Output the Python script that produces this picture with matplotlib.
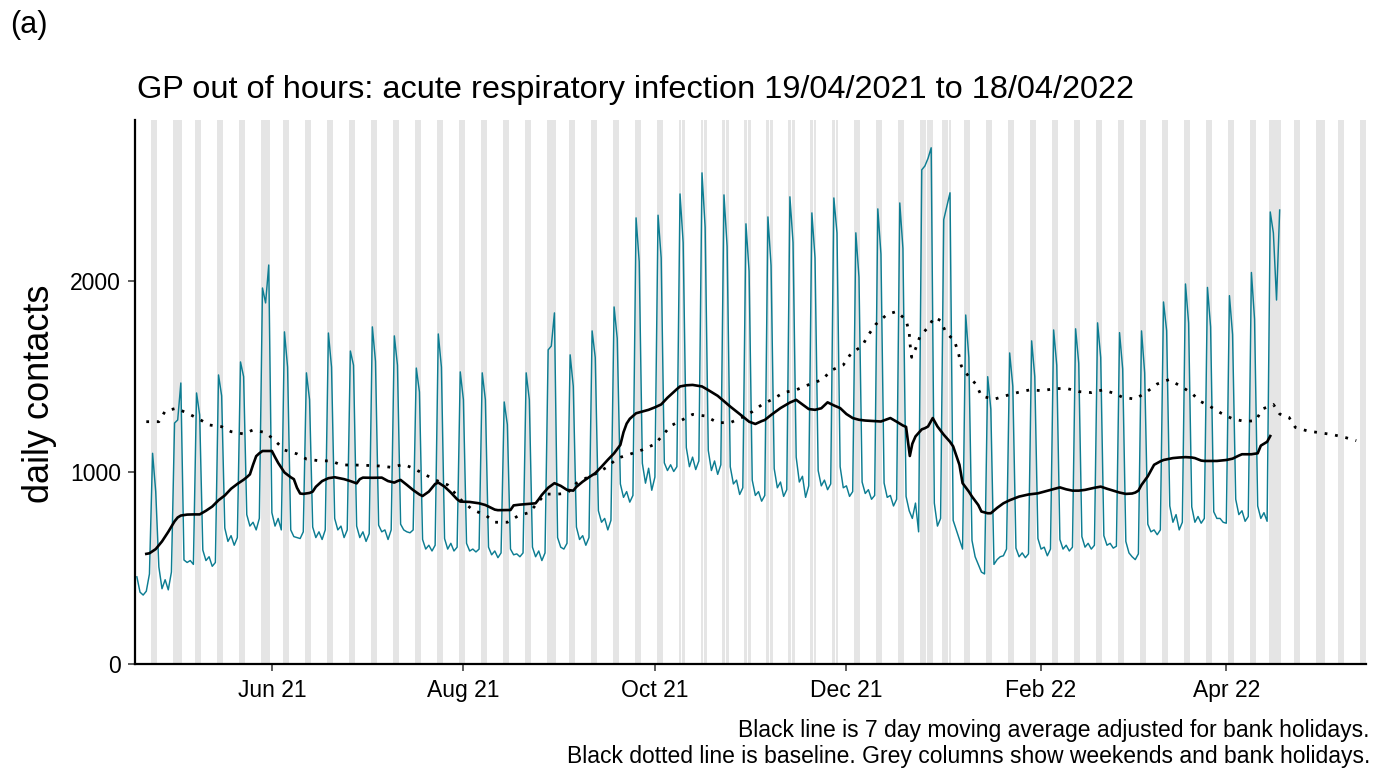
import numpy as np
import pandas as pd
import matplotlib
matplotlib.use("Agg")
import matplotlib.pyplot as plt
import matplotlib.dates as mdates

plt.rcParams['font.family'] = ['Liberation Sans', 'DejaVu Sans']

# ---------------------------------------------------------------- data
start_date = pd.Timestamp("2021-04-19")      # a Monday
shade_until = pd.Timestamp("2022-05-15")

# daily contacts, one row per week (Mon..Sun)
contacts_by_week = [
    [455, 375, 360, 380, 470, 1100, 900],
    [507, 393, 440, 387, 480, 1258, 1274],
    [1467, 543, 530, 540, 520, 1415, 1300],
    [595, 540, 560, 510, 530, 1509, 1400],
    [710, 640, 670, 620, 660, 1577, 1500],
    [780, 720, 740, 700, 760, 1963, 1885],
    [2083, 790, 720, 760, 700, 1734, 1550],
    [700, 665, 660, 655, 690, 1520, 1380],
    [715, 660, 690, 650, 700, 1728, 1550],
    [760, 700, 720, 660, 700, 1634, 1560],
    [720, 660, 690, 640, 680, 1760, 1580],
    [725, 690, 700, 650, 700, 1713, 1560],
    [730, 700, 690, 685, 700, 1545, 1420],
    [650, 600, 620, 590, 620, 1723, 1550],
    [655, 600, 630, 590, 610, 1525, 1380],
    [630, 590, 600, 585, 600, 1520, 1380],
    [610, 570, 590, 555, 580, 1368, 1250],
    [600, 570, 575, 560, 580, 1520, 1380],
    [610, 560, 590, 540, 580, 1640, 1660],
    [1833, 660, 610, 600, 630, 1614, 1450],
    [715, 650, 670, 620, 660, 1739, 1600],
    [800, 740, 760, 700, 750, 1864, 1700],
    [940, 870, 900, 845, 880, 2329, 2100],
    [1048, 944, 1022, 907, 976, 2343, 2120],
    [1050, 1010, 1040, 1005, 1030, 2454, 2200],
    [1130, 1030, 1080, 1015, 1060, 2564, 2280],
    [1115, 1010, 1060, 990, 1040, 2449, 2180],
    [1030, 940, 960, 885, 920, 2298, 2050],
    [960, 880, 900, 850, 880, 2334, 2080],
    [1020, 920, 950, 875, 910, 2439, 2200],
    [1080, 950, 980, 870, 930, 2355, 2120],
    [1010, 930, 960, 910, 940, 2433, 2250],
    [1030, 920, 930, 875, 900, 2251, 2020],
    [950, 890, 910, 860, 880, 2376, 2140],
    [945, 870, 880, 825, 860, 2407, 2170],
    [875, 800, 760, 840, 690, 2580, 2600],
    [2640, 2695, 840, 720, 760, 2320, 2390],
    [2460, 750, 700, 650, 600, 1822, 1600],
    [645, 560, 520, 480, 470, 1500, 1330],
    [520, 545, 560, 565, 600, 1624, 1450],
    [605, 560, 580, 555, 575, 1687, 1500],
    [655, 600, 610, 565, 600, 1744, 1560],
    [650, 600, 620, 590, 610, 1750, 1570],
    [665, 610, 630, 600, 620, 1781, 1600],
    [670, 620, 630, 605, 615, 1730, 1540],
    [640, 580, 560, 545, 575, 1739, 1520],
    [730, 690, 700, 675, 700, 1890, 1740],
    [825, 740, 780, 700, 740, 1984, 1780],
    [820, 740, 770, 735, 760, 1966, 1760],
    [795, 760, 760, 740, 735, 1923, 1720],
    [860, 780, 800, 745, 770, 2044, 1800],
    [825, 760, 790, 745, 2360, 2250, 1900],
]
final_day_contacts = [2370]

# 7 day moving average (days counted from start_date)
ma_day = [3, 4, 6, 8, 10, 12, 13, 14, 16, 18, 20, 22, 24, 26, 28, 30, 32, 34, 35, 36,
          37, 38, 39, 40, 43, 44, 45, 47, 49, 50, 51, 52, 53, 55, 56, 57, 59, 61, 63, 66,
          68, 70, 71, 72, 75, 78, 80, 82, 83, 84, 86, 88, 90, 91, 93, 95, 96, 98, 100, 102,
          103, 106, 109, 111, 112, 114, 115, 119, 120, 122, 124, 127, 128, 129, 131, 133, 135, 137, 139, 140,
          142, 144, 146, 148, 150, 152, 154, 155, 156, 157, 159, 161, 163, 165, 167, 169, 170, 172, 173, 175,
          177, 179, 180, 182, 185, 187, 189, 191, 193, 195, 197, 199, 200, 202, 203, 205, 207, 208, 210, 212,
          214, 216, 218, 220, 222, 224, 226, 228, 230, 232, 235, 237, 239, 240, 242, 244, 245, 245.7, 246.2, 247,
          248, 250, 251, 252, 253.5, 255, 257, 259, 260, 262, 263, 265, 266, 268, 269, 271, 272, 274, 276, 278,
          281, 284, 287, 289, 291, 294, 296, 298, 300, 302, 305, 307, 309, 311, 313, 315, 317, 318, 319, 320,
          322, 323, 324, 326, 327, 330, 332, 334, 336, 337, 339, 340, 344, 347, 349, 350, 351, 352, 355, 357,
          358, 360, 361]
ma_value = [575, 578, 600, 640, 690, 745, 765, 775, 780, 781, 781, 800, 822, 855, 880, 915, 940, 962, 975, 990,
            1040, 1085, 1100, 1112, 1112, 1080, 1050, 1000, 975, 965, 920, 890, 888, 893, 900, 925, 955, 970, 975, 965,
            955, 943, 965, 973, 972, 973, 955, 947, 955, 961, 935, 908, 885, 877, 900, 940, 947, 926, 895, 860,
            848, 846, 839, 830, 822, 806, 803, 804, 828, 832, 835, 839, 860, 883, 920, 944, 930, 909, 905, 925,
            952, 975, 996, 1030, 1066, 1100, 1144, 1210, 1255, 1280, 1309, 1318, 1327, 1340, 1355, 1390, 1405, 1435, 1449, 1455,
            1457, 1452, 1449, 1430, 1400, 1372, 1344, 1318, 1292, 1265, 1253, 1268, 1274, 1300, 1312, 1336, 1355, 1365, 1379, 1355,
            1331, 1327, 1335, 1366, 1350, 1336, 1305, 1284, 1275, 1271, 1268, 1266, 1278, 1284, 1265, 1245, 1238, 1150, 1086, 1150,
            1188, 1225, 1231, 1240, 1284, 1240, 1197, 1160, 1136, 1040, 944, 900, 874, 830, 796, 787, 787, 815, 839, 855,
            874, 885, 891, 900, 909, 922, 912, 905, 905, 909, 920, 926, 915, 905, 895, 888, 890, 895, 905, 935,
            980, 1010, 1040, 1058, 1065, 1075, 1078, 1080, 1078, 1075, 1062, 1060, 1060, 1065, 1072, 1080, 1088, 1095, 1095, 1100,
            1140, 1160, 1190]

# baseline (days counted from start_date)
baseline_day = [3, 7, 9, 12.5, 16, 20, 23, 27, 30, 34, 37, 41, 44, 47, 51, 54, 58, 62, 65, 69,
                73, 77, 81, 85, 88, 92, 95, 99, 103, 107, 111, 114, 118, 121.5, 125, 130, 134, 137, 140, 143,
                147, 150, 153, 157, 161, 165, 167.6, 170, 174, 177, 181, 185, 189, 192.5, 196, 199, 203, 206, 210, 213,
                218.5, 221, 225, 227.5, 231, 233, 235.4, 239, 242, 245, 246, 246.3, 246.8, 248, 249.4, 252, 254, 256, 257.7, 260.4,
                261.7, 262.6, 264.8, 267.3, 269, 273, 276.4, 280.7, 284.4, 288.4, 292.4, 296.3, 300, 304, 307.7, 311.5, 314, 318, 321.6, 325,
                328.8, 332.7, 336, 338.5, 341.7, 345.4, 349, 353, 356.4, 358.5, 362, 364, 367, 369, 373, 377, 381, 385, 388.4]
baseline_value = [1265, 1265, 1320, 1335, 1310, 1277, 1248, 1239, 1213, 1201, 1222, 1208, 1166, 1117, 1097, 1070, 1061, 1060, 1039, 1039,
                  1037, 1034, 1027, 1042, 1022, 987, 961, 935, 860, 804, 778, 740, 740, 774, 791, 887, 887, 891, 944, 970,
                  1000, 1031, 1074, 1095, 1118, 1148, 1196, 1243, 1277, 1303, 1295, 1260, 1260, 1285, 1317, 1353, 1387, 1417, 1431, 1452,
                  1486, 1532, 1561, 1622, 1660, 1718, 1774, 1826, 1840, 1796, 1730, 1666, 1601, 1645, 1709, 1758, 1810, 1793, 1730, 1688,
                  1622, 1556, 1504, 1460, 1399, 1382, 1399, 1418, 1431, 1427, 1438, 1438, 1422, 1417, 1431, 1412, 1392, 1383, 1420, 1462,
                  1485, 1448, 1414, 1373, 1346, 1309, 1280, 1266, 1271, 1331, 1355, 1305, 1287, 1235, 1216, 1207, 1197, 1182, 1166]

bank_holidays = ["2021-05-03", "2021-05-31", "2021-08-30", "2021-12-27", "2021-12-28",
                 "2022-01-03", "2022-04-15", "2022-04-18", "2022-05-02"]

tick_dates = ["2021-06-01", "2021-08-01", "2021-10-01", "2021-12-01", "2022-02-01", "2022-04-01"]
y_ticks = [0, 1000, 2000]

title_text = "GP out of hours: acute respiratory infection 19/04/2021 to 18/04/2022"
caption_lines = ["Black line is 7 day moving average adjusted for bank holidays.",
                 "Black dotted line is baseline. Grey columns show weekends and bank holidays."]

# ---------------------------------------------------------------- series
contacts = np.concatenate([np.ravel(contacts_by_week), final_day_contacts])
t0 = mdates.date2num(start_date)
x_contacts = t0 + np.arange(len(contacts))
x_ma = t0 + np.asarray(ma_day, dtype=float)
x_base = t0 + np.asarray(baseline_day, dtype=float)

# ---------------------------------------------------------------- figure
W, H = 1383, 772
fig = plt.figure(figsize=(W / 100, H / 100), dpi=100)
left, right, top, bottom = 135, 1366, 120, 664
ax = fig.add_axes([left / W, 1 - bottom / H, (right - left) / W, (bottom - top) / H])

# grey columns: weekends and bank holidays, one column per day
bh = set(pd.to_datetime(bank_holidays))
for day in pd.date_range(start_date, shade_until):
    if day.weekday() >= 5 or day in bh:
        c = mdates.date2num(day)
        ax.axvspan(c - 0.47, c + 0.47, color="#e5e5e5", lw=0, zorder=0)

ax.plot(x_contacts, contacts, color="#0d7d92", lw=1.05, zorder=2)
ax.plot(x_ma, ma_value, color="black", lw=1.9, zorder=3, solid_joinstyle="round")
ax.plot(x_base, baseline_value, color="black", lw=2.0, linestyle=(0, (1, 2.8)), zorder=4)

ax.set_xlim(t0 - 0.6, mdates.date2num(shade_until) + 0.5)
ax.set_ylim(0, 2840)
ax.set_yticks(y_ticks)
ax.set_xticks([mdates.date2num(pd.Timestamp(d)) for d in tick_dates])
ax.xaxis.set_major_formatter(mdates.DateFormatter("%b %y"))

for s in ("top", "right"):
    ax.spines[s].set_visible(False)
for s in ("left", "bottom"):
    ax.spines[s].set_linewidth(1.6)
    ax.spines[s].set_color("black")
ax.tick_params(axis="both", labelsize=16.5, length=5, width=1.1, color="#333333", labelcolor="black")
ax.tick_params(axis="x", pad=6)
ax.tick_params(axis="y", pad=5)

fig.text(137 / W, 1 - 90 / H, title_text, ha="left", va="center", fontsize=23.4)
fig.text(10 / W, 1 - 25 / H, "(a)", ha="left", va="center", fontsize=22)
fig.text(40 / W, 1 - 394 / H, "daily contacts", rotation=90, ha="center", va="center", fontsize=26)
fig.text(1370 / W, 1 - 731 / H, caption_lines[0], ha="right", va="center", fontsize=16.5)
fig.text(1370 / W, 1 - 757 / H, caption_lines[1], ha="right", va="center", fontsize=16.5)

fig.savefig("out.png", dpi=100)
